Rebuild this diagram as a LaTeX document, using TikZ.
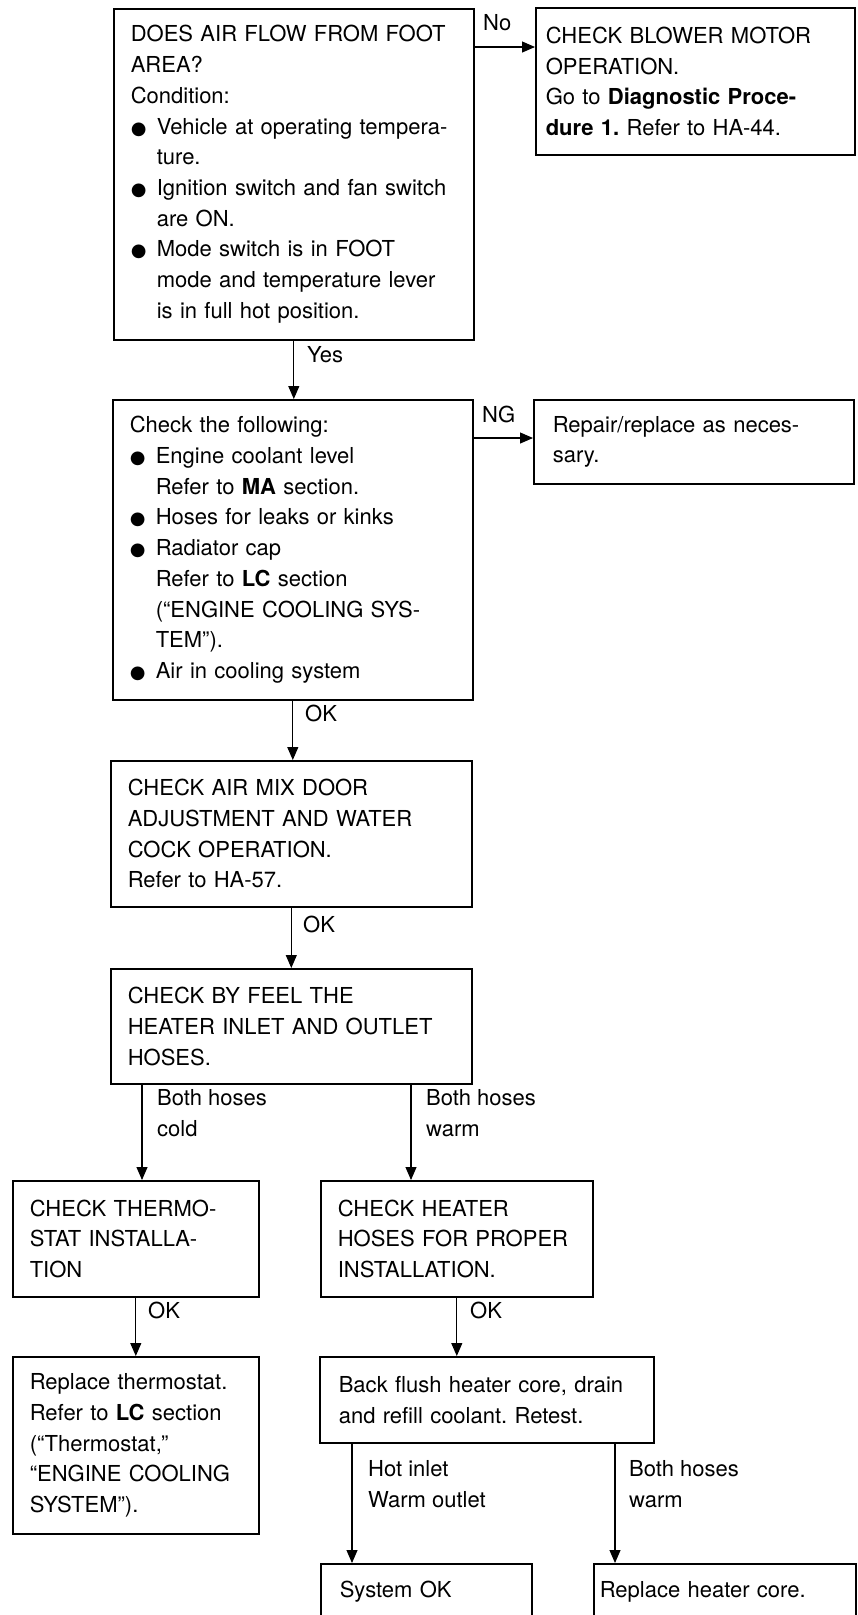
\documentclass[tikz,border=0pt]{standalone}
\usepackage{fontspec}
\setmainfont{TeX Gyre Heros}
\newfontfamily\symfont{DejaVu Sans}
\usetikzlibrary{arrows.meta}
\frenchspacing

\newcommand{\bul}{\makebox[26pt][l]{\symfont\fontsize{18}{18}\selectfont ●}}
\newcommand{\bulind}{\hspace*{26pt}}

\tikzset{
  box/.style={draw, line width=1.6pt, anchor=north west, inner xsep=17pt,
    inner ysep=0pt, align=left, font=\fontsize{22}{30.7}\selectfont},
  arr/.style={-{Triangle[length=13pt,width=11pt]}, line width=1.1pt},
  lbl/.style={anchor=base west, inner sep=0pt, align=left,
    font=\fontsize{22}{30.7}\selectfont},
}

\begin{document}
\begin{tikzpicture}[x=1pt, y=-1pt]
  \useasboundingbox (0,0) rectangle (858,1615);

  % boxes
  \node[box, text width=326pt, minimum height=331pt] (airflow) at (113,8)
    {DOES AIR FLOW FROM FOOT\\
     AREA?\\
     Condition:\\
     \bul Vehicle at operating tempera-\\
     \bulind ture.\\
     \bul Ignition switch and fan switch\\
     \bulind are ON.\\
     \bul Mode switch is in FOOT\\
     \bulind mode and temperature lever\\
     \bulind is in full hot position.};
  \node[box, inner xsep=10pt, text width=299pt, minimum height=147pt] (blower) at (535,7)
    {CHECK BLOWER MOTOR\\
     OPERATION.\\
     Go to \textbf{Diagnostic Proce-}\\
     \textbf{dure 1.} Refer to HA-44.};
  \node[box, text width=326pt, minimum height=300pt] (coolant) at (112,399)
    {Check the following:\\
     \bul Engine coolant level\\
     \bulind Refer to \textbf{MA} section.\\
     \bul Hoses for leaks or kinks\\
     \bul Radiator cap\\
     \bulind Refer to \textbf{LC} section\\
     \bulind (“ENGINE COOLING SYS-\\
     \bulind TEM”).\\
     \bul Air in cooling system};
  \node[box, inner xsep=19pt, text width=282pt, minimum height=84pt] (repair) at (533,399)
    {Repair/replace as neces-\\
     sary.};
  \node[box, text width=327pt, minimum height=146pt] (airmix) at (110,760)
    {CHECK AIR MIX DOOR\\
     ADJUSTMENT AND WATER\\
     COCK OPERATION.\\
     Refer to HA-57.};
  \node[box, text width=327pt, minimum height=115pt] (feel) at (110,968)
    {CHECK BY FEEL THE\\
     HEATER INLET AND OUTLET\\
     HOSES.};
  \node[box, text width=212pt, minimum height=116pt] (thermo) at (12,1180)
    {CHECK THERMO-\\
     STAT INSTALLA-\\
     TION};
  \node[box, text width=238pt, minimum height=116pt] (hoses) at (320,1180)
    {CHECK HEATER\\
     HOSES FOR PROPER\\
     INSTALLATION.};
  \node[box, text width=212pt, minimum height=177pt] (newthermo) at (12,1356)
    {Replace thermostat.\\
     Refer to \textbf{LC} section\\
     (“Thermostat,”\\
     “ENGINE COOLING\\
     SYSTEM”).};
  \node[box, inner xsep=19pt, text width=296pt, minimum height=86pt] (flush) at (319,1356)
    {Back flush heater core, drain\\
     and refill coolant. Retest.};
  \node[box, inner xsep=19pt, text width=173pt, minimum height=56pt] (sysok) at (320,1563)
    {System OK};
  \node[box, inner xsep=6pt, text width=250pt, minimum height=56pt] (core) at (593,1563)
    {Replace heater core.};

  % connector positions
  \coordinate (noY) at (0,47);
  \coordinate (ngY) at (0,438);
  \coordinate (coldX) at (142,0);
  \coordinate (warmX) at (411,0);
  \coordinate (hotX) at (352,0);
  \coordinate (bothX) at (615,0);

  % connectors
  \draw[arr] (airflow.east |- noY) -- (blower.west |- noY);
  \draw[arr] (airflow.south) -- (airflow.south |- coolant.north);
  \draw[arr] (coolant.east |- ngY) -- (repair.west |- ngY);
  \draw[arr] (coolant.south) -- (coolant.south |- airmix.north);
  \draw[arr] (airmix.south) -- (airmix.south |- feel.north);
  \draw[arr] (feel.south -| coldX) -- (thermo.north -| coldX);
  \draw[arr] (feel.south -| warmX) -- (hoses.north -| warmX);
  \draw[arr] (thermo.south) -- (thermo.south |- newthermo.north);
  \draw[arr] (hoses.south) -- (hoses.south |- flush.north);
  \draw[arr] (flush.south -| hotX) -- (sysok.north -| hotX);
  \draw[arr] (flush.south -| bothX) -- (core.north -| bothX);

  % labels (base = last line)
  \node[lbl] (lno)    at (483,30)   {No};
  \node[lbl] (lyes)   at (307,362)  {Yes};
  \node[lbl] (lng)    at (482,422)  {NG};
  \node[lbl] (lok1)   at (305,721)  {OK};
  \node[lbl] (lok2)   at (303,932)  {OK};
  \node[lbl] (lcold)  at (157,1136) {Both hoses\\cold};
  \node[lbl] (lwarm)  at (426,1136) {Both hoses\\warm};
  \node[lbl] (lok3)   at (148,1318) {OK};
  \node[lbl] (lok4)   at (470,1318) {OK};
  \node[lbl] (lhot)   at (368,1507) {Hot inlet\\Warm outlet};
  \node[lbl] (lboth)  at (629,1507) {Both hoses\\warm};
\end{tikzpicture}
\end{document}
